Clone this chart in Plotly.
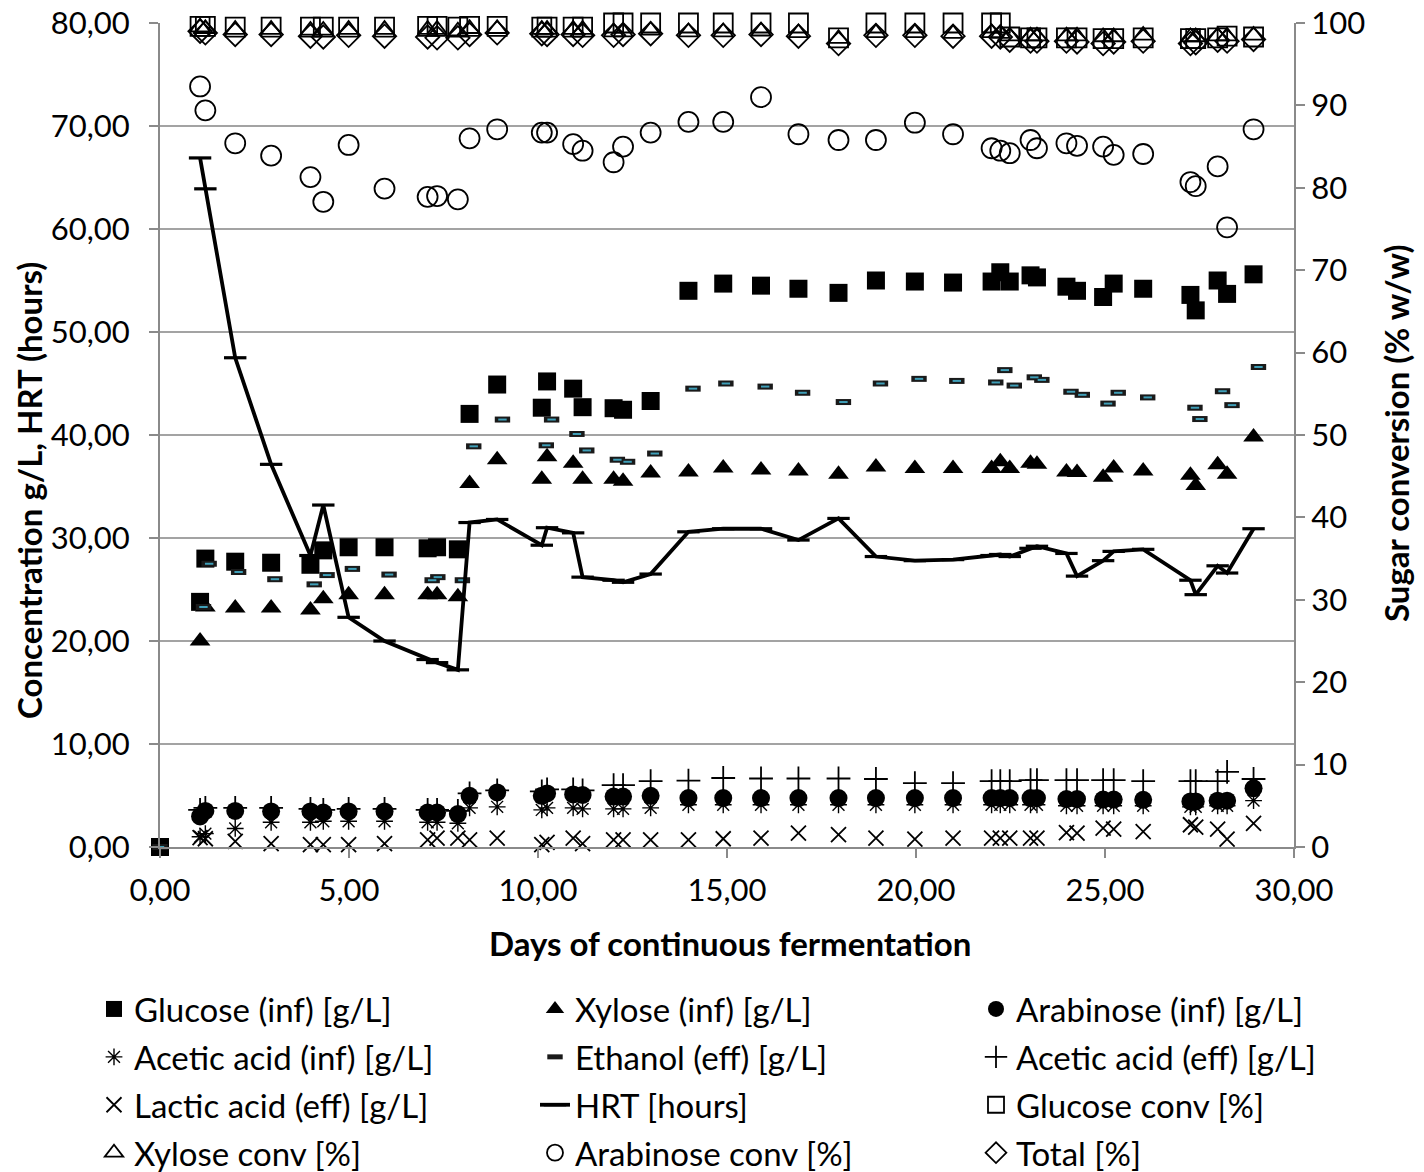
import plotly.graph_objects as go

# ---------------- data ----------------
inf_days = [0, 1.06, 1.2, 1.99, 2.94, 3.98, 4.32, 4.99, 5.94, 7.08, 7.33, 7.88, 8.19, 8.92,
            10.1, 10.24, 10.93, 11.18, 12.0, 12.25, 12.98, 13.98, 14.9, 15.9, 16.89, 17.95,
            18.94, 19.97, 20.98, 22.0, 22.23, 22.48, 23.03, 23.2, 23.98, 24.26, 24.95, 25.23,
            26.01, 27.26, 27.4, 27.98, 28.23, 28.93]
eth_days = [0, 1.15, 1.3, 2.08, 3.04, 4.08, 4.42, 5.09, 6.06, 7.2, 7.35, 8.0, 8.3, 9.06,
            10.22, 10.36, 11.03, 11.29, 12.1, 12.37, 13.09, 14.1, 14.97, 16.01, 17.0, 18.08,
            19.06, 20.08, 21.08, 22.11, 22.35, 22.6, 23.13, 23.33, 24.1, 24.4, 25.08, 25.35,
            26.13, 27.38, 27.51, 28.11, 28.36, 29.06]

glucose_inf = [0, 23.8, 28.0, 27.7, 27.6, 27.4, 28.8, 29.1, 29.1, 29.0, 29.1, 28.9, 42.05, 44.9,
               42.65, 45.2, 44.5, 42.7, 42.6, 42.45, 43.3, 54.0, 54.7, 54.5, 54.2, 53.8, 55.0,
               54.9, 54.8, 54.9, 55.8, 54.9, 55.5, 55.3, 54.4, 54.0, 53.4, 54.7, 54.2, 53.6,
               52.1, 55.0, 53.7, 55.6]
xylose_inf = [None, 20.0, 23.3, 23.2, 23.2, 23.0, 24.1, 24.5, 24.5, 24.5, 24.5, 24.3, 35.3, 37.6,
              35.7, 37.9, 37.25, 35.7, 35.7, 35.5, 36.3, 36.4, 36.8, 36.6, 36.5, 36.2, 36.9,
              36.75, 36.75, 36.75, 37.4, 36.75, 37.25, 37.15, 36.4, 36.35, 35.9, 36.8, 36.5,
              36.1, 35.1, 37.1, 36.2, 39.8]
arabinose_inf = [None, 2.97, 3.5, 3.5, 3.45, 3.45, 3.35, 3.45, 3.45, 3.35, 3.35, 3.2, 4.97, 5.3,
                 4.97, 5.2, 5.1, 5.05, 4.9, 4.9, 4.97, 4.75, 4.75, 4.75, 4.75, 4.75, 4.75, 4.75,
                 4.75, 4.75, 4.75, 4.75, 4.75, 4.75, 4.65, 4.65, 4.6, 4.6, 4.58, 4.42, 4.42,
                 4.5, 4.5, 5.7]
acetic_inf = [None, 1.0, 1.3, 1.8, 2.4, 2.4, 2.5, 2.5, 2.5, 2.4, 2.4, 2.3, 3.8, 3.9, 3.6, 3.8,
              3.8, 3.7, 3.7, 3.7, 3.8, 4.1, 4.1, 4.1, 4.1, 4.1, 4.1, 4.1, 4.1, 4.1, 4.1, 4.1,
              4.1, 4.1, 4.0, 4.0, 4.0, 4.0, 4.0, 3.9, 3.9, 4.0, 4.0, 4.5]
ethanol_eff = [0, 23.3, 27.5, 26.7, 26.0, 25.5, 26.4, 27.0, 26.45, 25.9, 26.2, 25.9, 38.9, 41.5,
               39.0, 41.5, 40.1, 38.5, 37.6, 37.4, 38.2, 44.5, 45.0, 44.7, 44.1, 43.2, 45.0,
               45.45, 45.25, 45.1, 46.3, 44.8, 45.6, 45.35, 44.2, 43.9, 43.05, 44.1, 43.65,
               42.65, 41.55, 44.25, 42.9, 46.6]
acetic_eff = [None, 3.6, 3.8, 3.8, 3.8, 3.7, 3.6, 3.7, 3.7, 3.6, 3.6, 3.5, 5.2, 5.5, 5.4, 5.6,
              5.6, 5.5, 6.0, 6.0, 6.4, 6.45, 6.7, 6.65, 6.65, 6.65, 6.6, 6.2, 6.2, 6.4, 6.4,
              6.4, 6.5, 6.5, 6.5, 6.5, 6.5, 6.5, 6.4, 6.4, 6.4, 6.4, 7.3, 6.6]
lactic_eff = [None, 0.9, 0.8, 0.55, 0.32, 0.23, 0.23, 0.23, 0.32, 0.7, 0.87, 0.87, 0.7, 0.87,
              0.23, 0.45, 0.87, 0.32, 0.7, 0.7, 0.7, 0.7, 0.8, 0.87, 1.35, 1.2, 0.87, 0.77,
              0.87, 0.87, 0.87, 0.87, 0.87, 0.87, 1.4, 1.35, 1.84, 1.74, 1.5, 2.16, 1.94,
              1.74, 0.77, 2.3]
hrt_hours = [None, 66.9, 63.9, 47.5, 37.15, 28.3, 33.2, 22.3, 20.0, 18.2, 17.9, 17.2, 31.5,
             31.8, 29.3, 31.0, 30.5, 26.2, 25.9, 25.7, 26.5, 30.6, 30.9, 30.9, 29.8, 31.9,
             28.2, 27.8, 27.9, 28.3, 28.4, 28.2, 29.0, 29.2, 28.5, 26.3, 27.8, 28.7, 28.9,
             25.9, 24.5, 27.3, 26.6, 30.9]
glucose_conv = [None, 99.6, 99.6, 99.5, 99.5, 99.5, 99.5, 99.5, 99.5, 99.6, 99.6, 99.5, 99.6,
                99.6, 99.5, 99.5, 99.5, 99.5, 100, 100, 100, 100, 100, 100, 100, 98.2, 100,
                100, 100, 100, 100, 98.3, 98.2, 98.2, 98.2, 98.2, 98.1, 98.1, 98.2, 98.1,
                98.1, 98.2, 98.4, 98.3]
xylose_conv = [None, 99.5, 99.3, 99.2, 99.2, 99.1, 99.1, 99.2, 99.2, 99.2, 99.2, 99.0, 99.3,
               99.3, 99.2, 99.2, 99.2, 99.2, 98.9, 98.9, 99.1, 98.9, 98.9, 99.0, 98.8, 98.1,
               98.8, 98.8, 98.7, 98.8, 98.7, 98.4, 98.4, 98.4, 98.4, 98.4, 98.3, 98.3, 98.5,
               98.3, 98.3, 98.4, 98.4, 98.5]
arabinose_conv = [None, 92.3, 89.4, 85.4, 83.9, 81.3, 78.3, 85.2, 79.9, 78.9, 79.0, 78.6, 86.0,
                  87.1, 86.7, 86.7, 85.3, 84.5, 83.1, 85.0, 86.7, 88.0, 88.0, 91.0, 86.5, 85.8,
                  85.8, 87.9, 86.5, 84.8, 84.5, 84.2, 85.8, 84.8, 85.4, 85.1, 85.0, 84.0, 84.1,
                  80.7, 80.2, 82.6, 75.2, 87.1]
total_conv = [None, 99.0, 98.8, 98.6, 98.6, 98.4, 98.3, 98.5, 98.4, 98.3, 98.2, 98.2, 98.6,
              98.8, 98.7, 98.6, 98.6, 98.5, 98.5, 98.6, 98.7, 98.5, 98.5, 98.6, 98.4, 97.5,
              98.5, 98.5, 98.4, 98.4, 98.3, 97.9, 97.8, 97.8, 97.8, 97.7, 97.5, 97.7, 97.8,
              97.5, 97.6, 97.9, 97.8, 98.0]

x_ticks = [0, 5, 10, 15, 20, 25, 30]
left_ticks = [0, 10, 20, 30, 40, 50, 60, 70, 80]
right_ticks = [0, 10, 20, 30, 40, 50, 60, 70, 80, 90, 100]

FONT = "Lato"
BLACK = "#000000"

fig = go.Figure()


def add(x, y, name, legend, rank, yaxis="y", mode="markers", marker=None, line=None,
        showlegend=True):
    fig.add_trace(go.Scatter(
        x=x, y=y, name=name, mode=mode, yaxis=yaxis, marker=marker, line=line,
        legend=legend, legendrank=rank, legendgroup=name, showlegend=showlegend,
        cliponaxis=False, connectgaps=True, hoverinfo="x+y+name"))


def openm(symbol, size, width=1.8, color=BLACK):
    return dict(symbol=symbol, size=size, color=color, line=dict(color=color, width=width))


# draw order (bottom -> top)
add(inf_days, acetic_eff, "Acetic acid (eff) [g/L]", "legend3", 2,
    marker=openm("cross-thin-open", 17, 1.8))
add(inf_days, acetic_inf, "Acetic acid (inf) [g/L]", "legend", 2,
    marker=openm("asterisk-open", 14, 1.4))
add(inf_days, lactic_eff, "Lactic acid (eff) [g/L]", "legend", 3,
    marker=openm("x-thin-open", 15, 1.8))
add(inf_days, arabinose_inf, "Arabinose (inf) [g/L]", "legend3", 1,
    marker=dict(symbol="circle", size=18, color=BLACK))
add(inf_days, glucose_inf, "Glucose (inf) [g/L]", "legend", 1,
    marker=dict(symbol="square", size=18, color=BLACK))
add(inf_days, xylose_inf, "Xylose (inf) [g/L]", "legend2", 1,
    marker=dict(symbol="triangle-up", size=18, color=BLACK))
add(eth_days, ethanol_eff, "Ethanol (eff) [g/L]", "legend2", 2,
    marker=openm("line-ew-open", 11, 6, "#1a1a1a"))
add(eth_days, ethanol_eff, "Ethanol overlay", "legend2", 99, showlegend=False,
    marker=openm("line-ew-open", 6, 2, "#3f9fb8"))
add(inf_days, hrt_hours, "HRT [hours]", "legend2", 3, mode="lines+markers",
    line=dict(color=BLACK, width=3.8),
    marker=openm("line-ew-open", 16, 3.2))
add(inf_days, glucose_conv, "Glucose conv [%]", "legend3", 3, yaxis="y2",
    marker=openm("square-open", 19, 1.8))
add(inf_days, xylose_conv, "Xylose conv [%]", "legend", 4, yaxis="y2",
    marker=openm("triangle-up-open", 17, 1.8))
add(inf_days, arabinose_conv, "Arabinose conv [%]", "legend2", 4, yaxis="y2",
    marker=openm("circle-open", 20, 1.8))
add(inf_days, total_conv, "Total [%]", "legend3", 4, yaxis="y2",
    marker=openm("diamond-open", 18, 1.8))

# the page body adds an 8 px offset; size the figure so it fills the window
OFF = 8
W, H = 1424 - OFF, 1172 - OFF
# plot area in screen pixels: x 160..1294, y 23..847
L, T = 160 - OFF, 23 - OFF
R, B = W - (1294 - OFF), H - (847 - OFF)
PW, PH = W - L - R, H - T - B


def px_x(screen_x):
    return (screen_x - OFF - L) / PW


def px_y(screen_y):
    return (H - B - (screen_y - OFF)) / PH


tick_font = dict(family=FONT, size=31, color=BLACK)
title_font = dict(family=FONT, size=33, color=BLACK)
grid_col = "#a3a3a3"
axis_col = "#8a8a8a"

legend_common = dict(
    orientation="v", yanchor="top", xanchor="left", yref="container", xref="container",
    y=(H - 973) / H,
    font=dict(family=FONT, size=33, color=BLACK), bgcolor="rgba(0,0,0,0)",
    tracegroupgap=2, itemwidth=30, traceorder="grouped")

fig.update_layout(
    width=W, height=H,
    margin=dict(l=L, r=R, t=T, b=B, autoexpand=False),
    paper_bgcolor="white", plot_bgcolor="white",
    separators=",.",
    font=dict(family=FONT, size=27, color=BLACK),
    showlegend=True,
    legend=dict(legend_common, x=86 / W),
    legend2=dict(legend_common, x=527 / W),
    legend3=dict(legend_common, x=968 / W),
    xaxis=dict(range=[0, 30], tickvals=x_ticks, tickformat=".2f", showgrid=False,
               zeroline=False, showline=True, linecolor=axis_col, linewidth=2,
               ticks="outside", ticklen=9, tickcolor=axis_col, tickwidth=2,
               tickfont=tick_font, ticklabelstandoff=6, automargin=False,
               ticklabeloverflow="allow"),
    yaxis=dict(range=[0, 80], tickvals=left_ticks, tickformat=".2f", showgrid=True,
               gridcolor=grid_col, gridwidth=2, zeroline=False, showline=True,
               linecolor=axis_col, linewidth=2, ticks="outside", ticklen=9,
               tickcolor=axis_col, tickwidth=2, tickfont=tick_font,
               ticklabelstandoff=13, automargin=False, ticklabeloverflow="allow"),
    yaxis2=dict(range=[0, 100], tickvals=right_ticks, overlaying="y", side="right",
                showgrid=False, zeroline=False, showline=True, linecolor=axis_col,
                linewidth=2, ticks="outside", ticklen=9, tickcolor=axis_col, tickwidth=2,
                tickfont=tick_font, ticklabelstandoff=0, automargin=False,
                ticklabeloverflow="allow"),
    annotations=[
        dict(text="<b>Concentration g/L, HRT (hours)</b>", xref="paper", yref="paper",
             x=px_x(29), y=px_y(491), textangle=-90, showarrow=False,
             xanchor="center", yanchor="middle", font=title_font),
        dict(text="<b>Sugar conversion (% w/w)</b>", xref="paper", yref="paper",
             x=px_x(1396), y=px_y(433), textangle=-90, showarrow=False,
             xanchor="center", yanchor="middle", font=title_font),
        dict(text="<b>Days of continuous fermentation</b>", xref="paper", yref="paper",
             x=px_x(730), y=px_y(943), showarrow=False,
             xanchor="center", yanchor="middle", font=title_font),
    ],
)

fig.write_html("out.html")
